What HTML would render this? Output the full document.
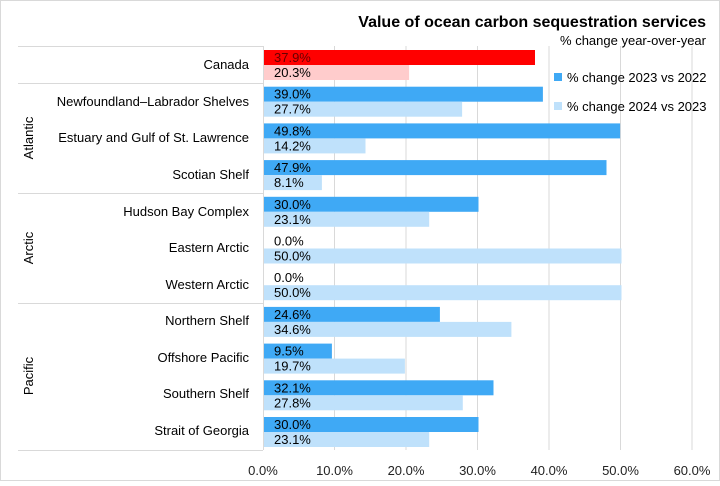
<!DOCTYPE html><html><head><style>body{margin:0;background:#fff}svg text{font-family:"Liberation Sans",sans-serif}</style></head><body>
<svg width="720" height="481" xmlns="http://www.w3.org/2000/svg">
<rect x="0.5" y="0.5" width="719" height="480" fill="#fff" stroke="#d9d9d9"/>
<text x="706" y="27" text-anchor="end" font-size="16" font-weight="bold">Value of ocean carbon sequestration services</text>
<text x="706" y="45" text-anchor="end" font-size="13">% change year-over-year</text>
<g stroke="#d9d9d9">
<line x1="334.5" y1="46" x2="334.5" y2="450"/><line x1="406" y1="46" x2="406" y2="450"/><line x1="477.5" y1="46" x2="477.5" y2="450"/><line x1="549" y1="46" x2="549" y2="450"/><line x1="620.5" y1="46" x2="620.5" y2="450"/><line x1="692" y1="46" x2="692" y2="450"/>
<line x1="18" y1="46.5" x2="263" y2="46.5"/><line x1="18" y1="83.5" x2="263" y2="83.5"/><line x1="18" y1="193.5" x2="263" y2="193.5"/><line x1="18" y1="303.5" x2="263" y2="303.5"/><line x1="18" y1="450.5" x2="263" y2="450.5"/>
<line x1="263.5" y1="46" x2="263.5" y2="450"/>
</g>
<g>
<rect x="264" y="50" width="271" height="15" fill="#ff0000"/><rect x="264" y="65" width="145.1" height="15" fill="#ffcccc"/>
<rect x="264" y="86.7" width="278.9" height="15" fill="#3fa9f5"/><rect x="264" y="101.7" width="198.1" height="15" fill="#bfe1fb"/>
<rect x="264" y="123.4" width="356.1" height="15" fill="#3fa9f5"/><rect x="264" y="138.4" width="101.5" height="15" fill="#bfe1fb"/>
<rect x="264" y="160.1" width="342.5" height="15" fill="#3fa9f5"/><rect x="264" y="175.1" width="57.9" height="15" fill="#bfe1fb"/>
<rect x="264" y="196.8" width="214.5" height="15" fill="#3fa9f5"/><rect x="264" y="211.8" width="165.2" height="15" fill="#bfe1fb"/>
<rect x="264" y="248.5" width="357.5" height="15" fill="#bfe1fb"/>
<rect x="264" y="285.2" width="357.5" height="15" fill="#bfe1fb"/>
<rect x="264" y="306.9" width="175.9" height="15" fill="#3fa9f5"/><rect x="264" y="321.9" width="247.4" height="15" fill="#bfe1fb"/>
<rect x="264" y="343.6" width="67.9" height="15" fill="#3fa9f5"/><rect x="264" y="358.6" width="140.9" height="15" fill="#bfe1fb"/>
<rect x="264" y="380.3" width="229.5" height="15" fill="#3fa9f5"/><rect x="264" y="395.3" width="198.8" height="15" fill="#bfe1fb"/>
<rect x="264" y="417" width="214.5" height="15" fill="#3fa9f5"/><rect x="264" y="432" width="165.2" height="15" fill="#bfe1fb"/>
</g>
<g font-size="13" fill="#000">
<text x="274" y="62" fill="#600">37.9%</text><text x="274" y="77">20.3%</text>
<text x="274" y="98.7">39.0%</text><text x="274" y="113.7">27.7%</text>
<text x="274" y="135.4">49.8%</text><text x="274" y="150.4">14.2%</text>
<text x="274" y="172.1">47.9%</text><text x="274" y="187.1">8.1%</text>
<text x="274" y="208.8">30.0%</text><text x="274" y="223.8">23.1%</text>
<text x="274" y="245.5">0.0%</text><text x="274" y="260.5">50.0%</text>
<text x="274" y="282.2">0.0%</text><text x="274" y="297.2">50.0%</text>
<text x="274" y="318.9">24.6%</text><text x="274" y="333.9">34.6%</text>
<text x="274" y="355.6">9.5%</text><text x="274" y="370.6">19.7%</text>
<text x="274" y="392.3">32.1%</text><text x="274" y="407.3">27.8%</text>
<text x="274" y="429">30.0%</text><text x="274" y="444">23.1%</text>
</g>
<g font-size="13" text-anchor="end" fill="#000">
<text x="249" y="69">Canada</text>
<text x="249" y="106">Newfoundland–Labrador Shelves</text>
<text x="249" y="142">Estuary and Gulf of St. Lawrence</text>
<text x="249" y="179">Scotian Shelf</text>
<text x="249" y="216">Hudson Bay Complex</text>
<text x="249" y="252">Eastern Arctic</text>
<text x="249" y="289">Western Arctic</text>
<text x="249" y="325">Northern Shelf</text>
<text x="249" y="362">Offshore Pacific</text>
<text x="249" y="398">Southern Shelf</text>
<text x="249" y="435">Strait of Georgia</text>
</g>
<g font-size="13" text-anchor="middle">
<text transform="translate(33,138) rotate(-90)">Atlantic</text>
<text transform="translate(33,248) rotate(-90)">Arctic</text>
<text transform="translate(33,376) rotate(-90)">Pacific</text>
</g>
<g font-size="13" text-anchor="middle" fill="#222">
<text x="263" y="475">0.0%</text><text x="334.5" y="475">10.0%</text><text x="406" y="475">20.0%</text><text x="477.5" y="475">30.0%</text><text x="549" y="475">40.0%</text><text x="620.5" y="475">50.0%</text><text x="692" y="475">60.0%</text>
</g>
<rect x="554" y="73" width="8" height="8" fill="#3fa9f5"/><text x="567" y="82" font-size="13">% change 2023 vs 2022</text>
<rect x="554" y="102" width="8" height="8" fill="#bfe1fb"/><text x="567" y="111" font-size="13">% change 2024 vs 2023</text>
</svg></body></html>
